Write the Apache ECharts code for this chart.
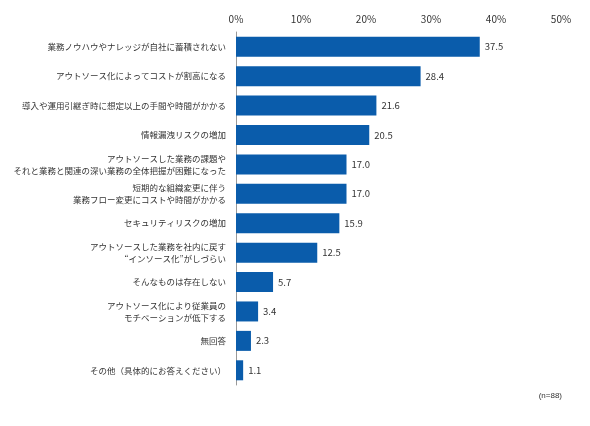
<!DOCTYPE html>
<html><head><meta charset="utf-8">
<script src="https://cdn.jsdelivr.net/npm/echarts@6/dist/echarts.min.js"></script>
<style>html,body{margin:0;padding:0;background:#fff}#c{width:590px;height:426px}</style>
</head><body><div id="c"></div>
<script>
const categories = [
 "業務ノウハウやナレッジが自社に蓄積されない",
 "アウトソース化によってコストが割高になる",
 "導入や運用引継ぎ時に想定以上の手間や時間がかかる",
 "情報漏洩リスクの増加",
 "アウトソースした業務の課題や\nそれと業務と関連の深い業務の全体把握が困難になった",
 "短期的な組織変更に伴う\n業務フロー変更にコストや時間がかかる",
 "セキュリティリスクの増加",
 "アウトソースした業務を社内に戻す\n“インソース化”がしづらい",
 "そんなものは存在しない",
 "アウトソース化により従業員の\nモチベーションが低下する",
 "無回答",
 "その他（具体的にお答えください）"
];
const values = [37.5,28.4,21.6,20.5,17.0,17.0,15.9,12.5,5.7,3.4,2.3,1.1];
const tickLabels = ["0%","10%","20%","30%","40%","50%"];
const chart = echarts.init(document.getElementById('c'));
chart.setOption({
 animation:false,
 textStyle:{fontFamily:"Noto Sans CJK JP"},
 grid:{left:236,right:29,top:32,bottom:41},
 xAxis:{type:'value',position:'top',min:0,max:50,interval:10,
  axisLabel:{formatter:(v)=>tickLabels[v/10],color:'#333',fontSize:10,margin:8},
  splitLine:{show:false},axisLine:{show:false},axisTick:{show:false}},
 yAxis:{type:'category',inverse:true,data:categories,
  axisLine:{show:true,lineStyle:{color:'#999'}},axisTick:{show:false},
  axisLabel:{color:'#333',fontSize:8.5,lineHeight:12,margin:10}},
 series:[{type:'bar',data:values,barWidth:20,itemStyle:{color:'#0a5cab'},
  label:{show:true,position:'right',color:'#333',fontSize:9.5,formatter:p=>p.value.toFixed(1)}}],
 graphic:[{type:'text',right:28,top:392,style:{text:'(n=88)',fontSize:8,fill:'#333'}}]
});
</script></body></html>
